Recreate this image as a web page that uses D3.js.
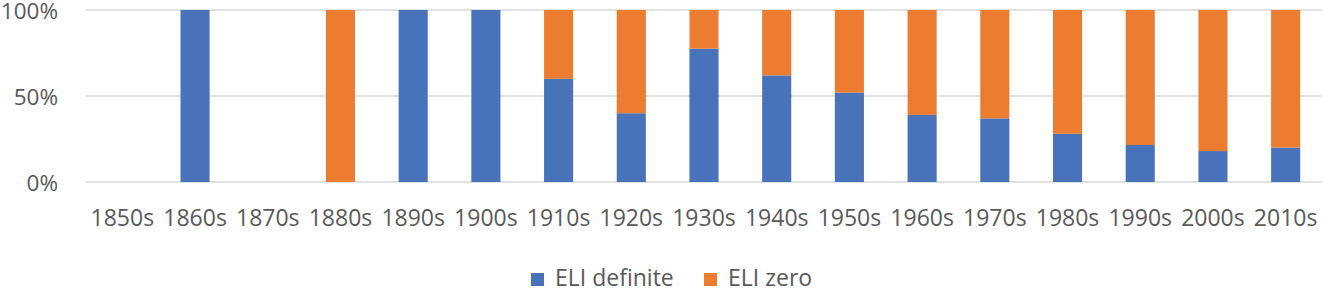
<!DOCTYPE html>
<html><head><meta charset="utf-8">
<script src="https://cdn.jsdelivr.net/npm/d3@7"></script>
<style>body{margin:0;background:#fff}svg{display:block}</style>
</head><body>
<svg id="c" width="1323" height="289"></svg>
<script>
const categories = ["1850s","1860s","1870s","1880s","1890s","1900s","1910s","1920s","1930s","1940s","1950s","1960s","1970s","1980s","1990s","2000s","2010s"];
const eliDefinite = [0,100,0,0,100,100,60,40,77.5,62,52,39,37,28,21.5,18,20];
const eliZero     = [0,0,0,100,0,0,40,60,22.5,38,48,61,63,72,78.5,82,80];
const yTicks = [0,50,100];
const seriesNames = ["ELI definite","ELI zero"];
const colors = ["#4873BA","#EC7C30"];

const svg = d3.select("#c");
const font = "'Open Sans', sans-serif";
const x = d3.scaleBand().domain(categories).range([86,1322]).paddingInner(0.6).paddingOuter(0.3);
const y = d3.scaleLinear().domain([0,100]).range([182,10]);

// gridlines
svg.append("g").selectAll("line").data(yTicks).join("line")
  .attr("x1",86).attr("x2",1322).attr("y1",d=>y(d)).attr("y2",d=>y(d))
  .attr("stroke","#d9d9d9").attr("stroke-width",1.5);

// y labels
const yAxis = d3.axisLeft(y).tickValues(yTicks).tickFormat(d=>d+"%").tickSize(0).tickPadding(0);
const ya = svg.append("g").attr("transform","translate(58,0)").call(yAxis);
ya.select(".domain").remove();
ya.selectAll("text").attr("font-family",font).attr("font-size",22.5).attr("fill","#595959").attr("dy","0.38em");

// stacked bars
const rows = categories.map((c,i)=>({cat:c, a:eliDefinite[i], b:eliZero[i]}));
const stack = d3.stack().keys(["a","b"])(rows);
svg.append("g").selectAll("g").data(stack).join("g").attr("fill",(d,i)=>colors[i])
  .selectAll("rect").data(d=>d).join("rect")
  .attr("x",d=>x(d.data.cat)).attr("width",x.bandwidth())
  .attr("y",d=>y(d[1])).attr("height",d=>y(d[0])-y(d[1]));

// x labels
const xAxis = d3.axisBottom(x).tickSize(0).tickPadding(0);
const xa = svg.append("g").attr("transform","translate(0,226)").call(xAxis);
xa.select(".domain").remove();
xa.selectAll("text").attr("font-family",font).attr("font-size",23).attr("fill","#595959").attr("dy",0).attr("y",0);

// legend
const legX = [531,704];
const lg = svg.append("g").selectAll("g").data(seriesNames).join("g")
  .attr("transform",(d,i)=>`translate(${legX[i]},0)`);
lg.append("rect").attr("x",0).attr("y",273).attr("width",13).attr("height",13).attr("fill",(d,i)=>colors[i]);
lg.append("text").attr("x",24).attr("y",286).text(d=>d)
  .attr("font-family",font).attr("font-size",23).attr("fill","#595959");
</script>
</body></html>
